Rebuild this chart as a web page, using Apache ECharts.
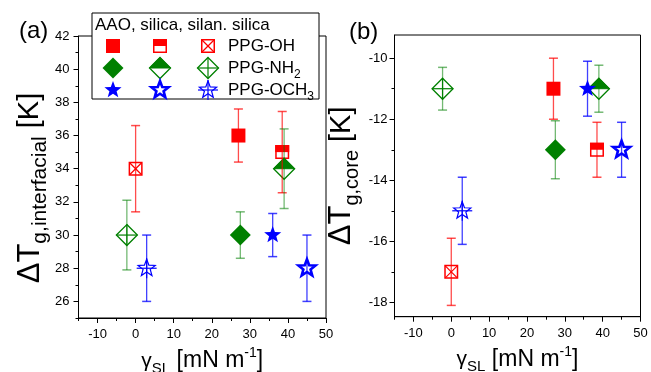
<!DOCTYPE html>
<html><head><meta charset="utf-8">
<script src="https://cdn.jsdelivr.net/npm/echarts@6/dist/echarts.min.js"></script>
<style>html,body{margin:0;padding:0;background:#fff}#c{width:651px;height:372px}</style>
</head><body><div id="c"></div>
<script>
const substrates = ['AAO', 'silica', 'silan. silica'];
const polymers = ['PPG-OH', 'PPG-NH2', 'PPG-OCH3'];
// gamma_SL per substrate (AAO, silica, silan. silica)
const gammaOH = [27, 38.5, 0];
const gammaNH2 = [27.5, 39, -2.3];
const gammaOCH3 = [36, 45, 2.9];
// panel (a): interfacial dTg
const interOH = [36, 35, 34];
const interOHErr = [1.6, 2.45, 2.6];
const interNH2 = [30, 34, 30];
const interNH2Err = [1.4, 2.4, 2.1];
const interOCH3 = [30, 28, 28];
const interOCH3Err = [1.3, 2.0, 2.0];
// panel (b): core dTg
const coreOH = [-11, -13, -17];
const coreOHErr = [1.0, 0.9, 1.1];
const coreNH2 = [-13, -11, -11];
const coreNH2Err = [0.95, 0.77, 0.7];
const coreOCH3 = [-11, -13, -15];
const coreOCH3Err = [0.9, 0.9, 1.1];
// ticks
const xMajor = [-10, 0, 10, 20, 30, 40, 50];
const xMinor = [-15, -5, 5, 15, 25, 35, 45];
const yMajorA = [26, 28, 30, 32, 34, 36, 38, 40, 42];
const yMinorA = [25, 27, 29, 31, 33, 35, 37, 39, 41];
const yMajorB = [-18, -16, -14, -12, -10];
const yMinorB = [-17, -15, -13, -11];

const FONT = 'Liberation Sans, Arial, sans-serif';
const COLORS = ['#ff0000', '#008000', '#0000ff'];
const ERR_COLORS = ['rgba(255,0,0,0.7)', 'rgba(0,128,0,0.55)', 'rgba(0,0,255,0.75)'];

const gammas = [gammaOH, gammaNH2, gammaOCH3];
function build(vals, errs) {
  const out = [];
  for (let p = 0; p < 3; p++) for (let s = 0; s < 3; s++) {
    out.push([gammas[p][s], vals[p][s], errs[p][s], p, s]);
  }
  return out;
}
const dataA = build([interOH, interNH2, interOCH3], [interOHErr, interNH2Err, interOCH3Err]);
const dataB = build([coreOH, coreNH2, coreOCH3], [coreOHErr, coreNH2Err, coreOCH3Err]);

function starPts(cx, cy, R, ratio) {
  const pts = [];
  for (let i = 0; i < 10; i++) {
    const a = (-90 + i * 36) * Math.PI / 180;
    const r = i % 2 === 0 ? R : R * ratio;
    pts.push([cx + r * Math.cos(a), cy + r * Math.sin(a)]);
  }
  return pts;
}
function line(x1, y1, x2, y2, c, w) {
  return {type: 'line', shape: {x1, y1, x2, y2}, style: {stroke: c, lineWidth: w || 1.2}};
}
function markerEls(p, s, cx, cy) {
  const c = COLORS[p];
  const els = [];
  if (p === 0) {
    const h = 7;
    if (s === 0) {
      els.push({type: 'rect', shape: {x: cx - h, y: cy - h, width: 2 * h, height: 2 * h}, style: {fill: c}});
    } else {
      els.push({type: 'rect', shape: {x: cx - h + 0.75, y: cy - h + 0.75, width: 2 * h - 1.5, height: 2 * h - 1.5}, style: {fill: '#fff', stroke: c, lineWidth: 1.5}});
      if (s === 1) {
        els.push({type: 'rect', shape: {x: cx - h, y: cy - h, width: 2 * h, height: h}, style: {fill: c}});
      } else {
        els.push(line(cx - h + 1, cy - h + 1, cx + h - 1, cy + h - 1, c, 1.2));
        els.push(line(cx - h + 1, cy + h - 1, cx + h - 1, cy - h + 1, c, 1.2));
      }
    }
  } else if (p === 1) {
    const r = 10.5;
    const pts = [[cx, cy - r], [cx + r, cy], [cx, cy + r], [cx - r, cy]];
    if (s === 0) {
      els.push({type: 'polygon', shape: {points: pts}, style: {fill: c}});
    } else {
      els.push({type: 'polygon', shape: {points: pts}, style: {fill: '#fff', stroke: c, lineWidth: 1.3}});
      if (s === 1) {
        els.push({type: 'polygon', shape: {points: [[cx, cy - r], [cx + r, cy], [cx - r, cy]]}, style: {fill: c, stroke: c, lineWidth: 1}});
      } else {
        els.push(line(cx - r, cy, cx + r, cy, c, 1.2));
        els.push(line(cx, cy - r, cx, cy + r, c, 1.2));
      }
    }
  } else {
    const R = 9;
    const pts = starPts(cx, cy, R, 0.42);
    if (s === 0) {
      els.push({type: 'polygon', shape: {points: pts}, style: {fill: c}});
    } else if (s === 1) {
      els.push({type: 'polygon', shape: {points: pts}, style: {fill: '#fff', stroke: c, lineWidth: 2.6, lineJoin: 'miter'}});
    } else {
      els.push({type: 'polygon', shape: {points: pts}, style: {fill: '#fff', stroke: c, lineWidth: 1.2}});
      els.push(line(cx - R - 1, cy, cx + R + 1, cy, c, 1.2));
      els.push(line(cx, cy - R - 1, cx, cy + R + 1, c, 1.2));
    }
  }
  return els;
}

function markerSeries(xi, data) {
  return {
    type: 'custom', xAxisIndex: xi, yAxisIndex: xi, z: 2,
    data: data, encode: {x: 0, y: 1},
    renderItem: function (params, api) {
      const c = api.coord([api.value(0), api.value(1)]);
      return {type: 'group', children: markerEls(api.value(3), api.value(4), c[0], c[1])};
    }
  };
}
function errSeries(xi, data) {
  return {
    type: 'custom', xAxisIndex: xi, yAxisIndex: xi, z: 3,
    data: data, encode: {x: 0, y: 1},
    renderItem: function (params, api) {
      const x = api.value(0), y = api.value(1), e = api.value(2), p = api.value(3);
      const t = api.coord([x, y + e]), b = api.coord([x, y - e]);
      const col = ERR_COLORS[p], w = 4.5;
      return {type: 'group', children: [
        line(t[0], t[1], b[0], b[1], col, 1.3),
        line(t[0] - w, t[1], t[0] + w, t[1], col, 1.5),
        line(b[0] - w, b[1], b[0] + w, b[1], col, 1.5)
      ]};
    }
  };
}

const labelStyle = {color: '#000', fontFamily: FONT, fontSize: 13};
function mainX(gi) {
  return {
    type: 'value', gridIndex: gi, min: -15, max: 50, position: 'bottom',
    axisLine: {show: true, onZero: false, lineStyle: {color: '#000', width: 1}},
    axisTick: {show: true, inside: false, length: 5, customValues: xMajor, lineStyle: {color: '#000'}},
    axisLabel: Object.assign({customValues: xMajor, margin: 10}, labelStyle),
    splitLine: {show: false},
    name: '{g|γ}{s|SL}{n| [mN m}{p|-1}{n|]}', nameLocation: 'middle', nameGap: 28,
    nameTextStyle: {fontFamily: FONT, color: '#000', rich: {
      g: {fontSize: 21, fontFamily: FONT, lineHeight: 30},
      s: {fontSize: 15, fontFamily: FONT, verticalAlign: 'bottom'},
      n: {fontSize: 23, fontFamily: FONT, lineHeight: 30},
      p: {fontSize: 14, fontFamily: FONT, verticalAlign: 'top'}
    }}
  };
}
function minorX(gi) {
  return {
    type: 'value', gridIndex: gi, min: -15, max: 50, position: 'bottom',
    axisLine: {show: false, onZero: false},
    axisTick: {show: true, inside: false, length: 3, customValues: xMinor, lineStyle: {color: '#000'}},
    axisLabel: {show: false}, splitLine: {show: false}
  };
}
function mainY(gi, min, max, major, name, gap, lblMargin, pad, subSize) {
  return {
    type: 'value', gridIndex: gi, min: min, max: max, position: 'left',
    axisLine: {show: true, onZero: false, lineStyle: {color: '#000', width: 1}},
    axisTick: {show: true, inside: false, length: 5, customValues: major, lineStyle: {color: '#000'}},
    axisLabel: Object.assign({customValues: major, margin: lblMargin}, labelStyle),
    splitLine: {show: false},
    name: name, nameLocation: 'middle', nameRotate: 90, nameGap: gap,
    nameTextStyle: {fontFamily: FONT, color: '#000', padding: pad, rich: {
      b: {fontSize: 31, fontFamily: FONT, lineHeight: 42},
      k: {fontSize: 29, fontFamily: FONT, lineHeight: 42},
      s: {fontSize: subSize, fontFamily: FONT, verticalAlign: 'bottom'}
    }}
  };
}
function minorY(gi, min, max, minor) {
  return {
    type: 'value', gridIndex: gi, min: min, max: max, position: 'left',
    axisLine: {show: false, onZero: false},
    axisTick: {show: true, inside: false, length: 3, customValues: minor, lineStyle: {color: '#000'}},
    axisLabel: {show: false}, splitLine: {show: false}
  };
}

// legend graphic
const legendEls = [];
legendEls.push({type: 'rect', shape: {x: 92, y: 13, width: 227, height: 86}, style: {fill: '#fff', stroke: '#000', lineWidth: 1}, z: 10});
legendEls.push({type: 'text', x: 95, y: 25, z: 11, style: {text: substrates.join(', '), fill: '#000', font: '17px ' + FONT, verticalAlign: 'middle', align: 'left'}});
const legRows = [46, 68, 90];
const legCols = [113, 160, 208];
const legTexts = ['PPG-OH', 'PPG-NH{s|2}', 'PPG-OCH{s|3}'];
for (let p = 0; p < 3; p++) {
  for (let s = 0; s < 3; s++) {
    markerEls(p, s, legCols[s], legRows[p]).forEach(function (el) { el.z = 12; legendEls.push(el); });
  }
  legendEls.push({type: 'text', x: 228, y: legRows[p], z: 11, style: {
    text: legTexts[p], fill: '#000', font: '17px ' + FONT, verticalAlign: 'middle', align: 'left',
    rich: {s: {fontSize: 12, fontFamily: FONT, fill: '#000', verticalAlign: 'bottom'}},
    lineHeight: 26
  }});
}
legendEls.push({type: 'text', x: 19, y: 31, z: 11, style: {text: '(a)', fill: '#000', font: '24px ' + FONT, verticalAlign: 'middle'}});
legendEls.push({type: 'text', x: 349, y: 32, z: 11, style: {text: '(b)', fill: '#000', font: '24px ' + FONT, verticalAlign: 'middle'}});

const option = {
  backgroundColor: '#fff',
  animation: false,
  grid: [
    {left: 78.5, top: 36, width: 247.5, height: 282, show: true, borderColor: '#000', borderWidth: 1, containLabel: false, outerBoundsMode: 'none'},
    {left: 394.5, top: 35, width: 246, height: 281.7, show: true, borderColor: '#000', borderWidth: 1, containLabel: false, outerBoundsMode: 'none'}
  ],
  xAxis: [mainX(0), mainX(1), minorX(0), minorX(1)],
  yAxis: [
    mainY(0, 25, 42, yMajorA, '{b|ΔT}{s|g,interfacial}{k| [K]}', 26, 9, [0, 22, 0, 0], 21),
    mainY(1, -18.47, -9.24, yMajorB, '{b|ΔT}{s|g,core}{k| [K]}', 32, 7, [0, 0, 0, 0], 20),
    minorY(0, 25, 42, yMinorA),
    minorY(1, -18.47, -9.24, yMinorB)
  ],
  series: [markerSeries(0, dataA), markerSeries(1, dataB), errSeries(0, dataA), errSeries(1, dataB)],
  graphic: {elements: legendEls}
};
const chart = echarts.init(document.getElementById('c'), null, {renderer: 'canvas'});
chart.setOption(option);
</script></body></html>
